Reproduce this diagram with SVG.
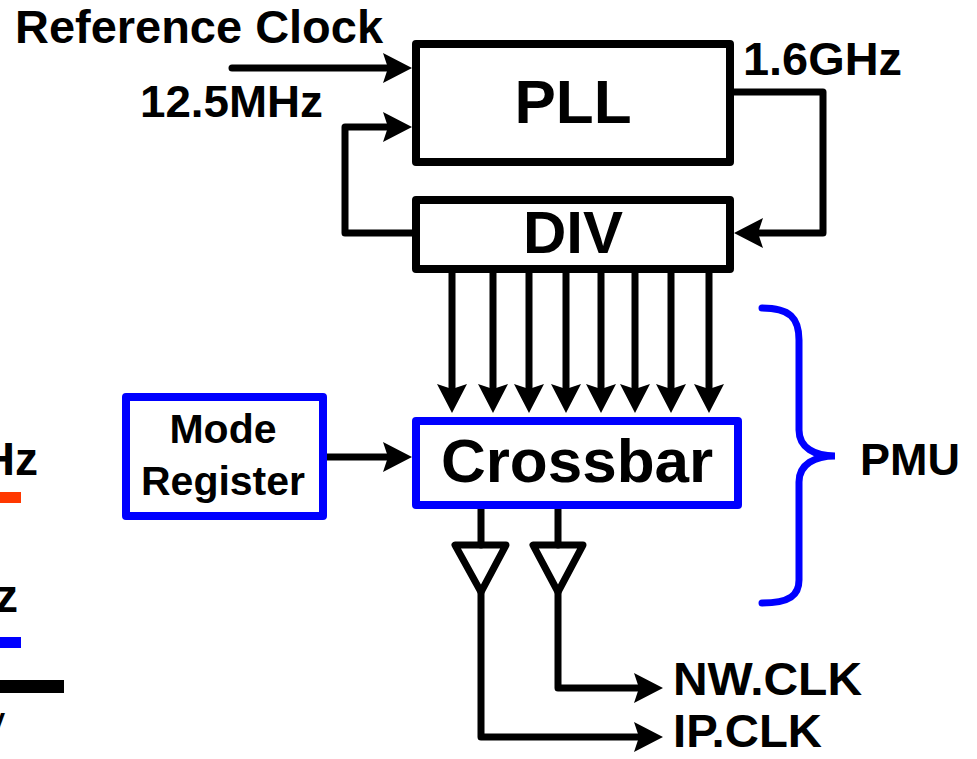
<svg xmlns="http://www.w3.org/2000/svg" width="977" height="759" viewBox="0 0 977 759">
<style>
text{font-family:"Liberation Sans",Arial,sans-serif;font-weight:bold;fill:#000}
.box{fill:#fff;stroke:#000;stroke-width:8;stroke-linejoin:round}
.bbox{fill:#fff;stroke:#0000FF;stroke-width:8;stroke-linejoin:round}
.wire{fill:none;stroke:#000;stroke-width:7;stroke-linejoin:round;stroke-linecap:round}
.arr{marker-end:url(#ah)}
.buf{fill:none;stroke:#000;stroke-width:7;stroke-linejoin:round}
.c{text-anchor:middle}
</style>
<defs>
<marker id="ah" viewBox="-30 -16 32 32" markerWidth="32" markerHeight="32" refX="-18" refY="0" orient="auto" markerUnits="userSpaceOnUse">
<path d="M0,0 L-29,-15 L-24,0 L-29,15 Z" fill="#000"/>
</marker>
</defs>
<rect width="977" height="759" fill="#fff"/>

<g id="legend">
<text x="38" y="475" font-size="46" text-anchor="end">Hz</text>
<rect x="0" y="492" width="21" height="11" fill="#FF3800"/>
<text x="18" y="612" font-size="46" text-anchor="end">z</text>
<rect x="0" y="637" width="21" height="11" fill="#0000FF"/>
<rect x="0" y="680" width="64" height="13" fill="#000"/>
<text x="5" y="728" font-size="28" text-anchor="end">v</text>
</g>

<g id="labels">
<text x="15" y="43" font-size="46" textLength="368" lengthAdjust="spacingAndGlyphs">Reference Clock</text>
<text x="140" y="117" font-size="45" textLength="183" lengthAdjust="spacingAndGlyphs">12.5MHz</text>
<text x="743" y="75" font-size="46" textLength="159" lengthAdjust="spacingAndGlyphs">1.6GHz</text>
</g>

<g id="connectors">
<path class="wire arr" d="M232,68 L394,68"/>
<path class="wire arr" d="M416,233 L345,233 L345,127 L394,127"/>
<path class="wire arr" d="M730,92 L823,92 L823,233 L752,233"/>
<path class="wire arr" d="M452,269 L452,395"/>
<path class="wire arr" d="M493,269 L493,395"/>
<path class="wire arr" d="M529,269 L529,395"/>
<path class="wire arr" d="M566,269 L566,395"/>
<path class="wire arr" d="M601,269 L601,395"/>
<path class="wire arr" d="M635,269 L635,395"/>
<path class="wire arr" d="M671,269 L671,395"/>
<path class="wire arr" d="M709,269 L709,395"/>
<path class="wire arr" d="M323,457 L394,457"/>
<path class="wire" d="M481,505 L481,545"/>
<path class="wire" d="M558,505 L558,545"/>
<path class="wire arr" d="M481,592 L481,737 L645,737"/>
<path class="wire arr" d="M558,592 L558,688 L645,688"/>
</g>

<g id="pll">
<rect class="box" x="416" y="44" width="314" height="118"/>
<text class="c" x="573" y="123" font-size="62">PLL</text>
</g>

<g id="div">
<rect class="box" x="416" y="200" width="314" height="69"/>
<text class="c" x="573" y="253" font-size="60">DIV</text>
</g>

<g id="crossbar">
<rect class="bbox" x="416" y="421" width="322" height="84"/>
<text class="c" x="577" y="482" font-size="62">Crossbar</text>
</g>

<g id="mode-register">
<rect class="bbox" x="126" y="397" width="197" height="119"/>
<text class="c" x="223" y="443" font-size="41">Mode</text>
<text class="c" x="223" y="495" font-size="41">Register</text>
</g>

<g id="buffer-ip">
<polygon class="buf" points="455,545 506,545 481,592"/>
</g>
<g id="buffer-nw">
<polygon class="buf" points="533,545 583,545 558,592"/>
</g>

<g id="outputs">
<text x="673" y="695" font-size="46" textLength="189" lengthAdjust="spacingAndGlyphs">NW.CLK</text>
<text x="673" y="747" font-size="46" textLength="149" lengthAdjust="spacingAndGlyphs">IP.CLK</text>
</g>

<g id="pmu">
<path d="M762,308 C790,308 799,318 799,340 L799,430 C799,448 815,456 835,456 C815,456 799,464 799,482 L799,580 C799,595 790,603 762,603" fill="none" stroke="#0000FF" stroke-width="7" stroke-linecap="round"/>
<text x="860" y="475" font-size="44" textLength="100" lengthAdjust="spacingAndGlyphs">PMU</text>
</g>
</svg>
